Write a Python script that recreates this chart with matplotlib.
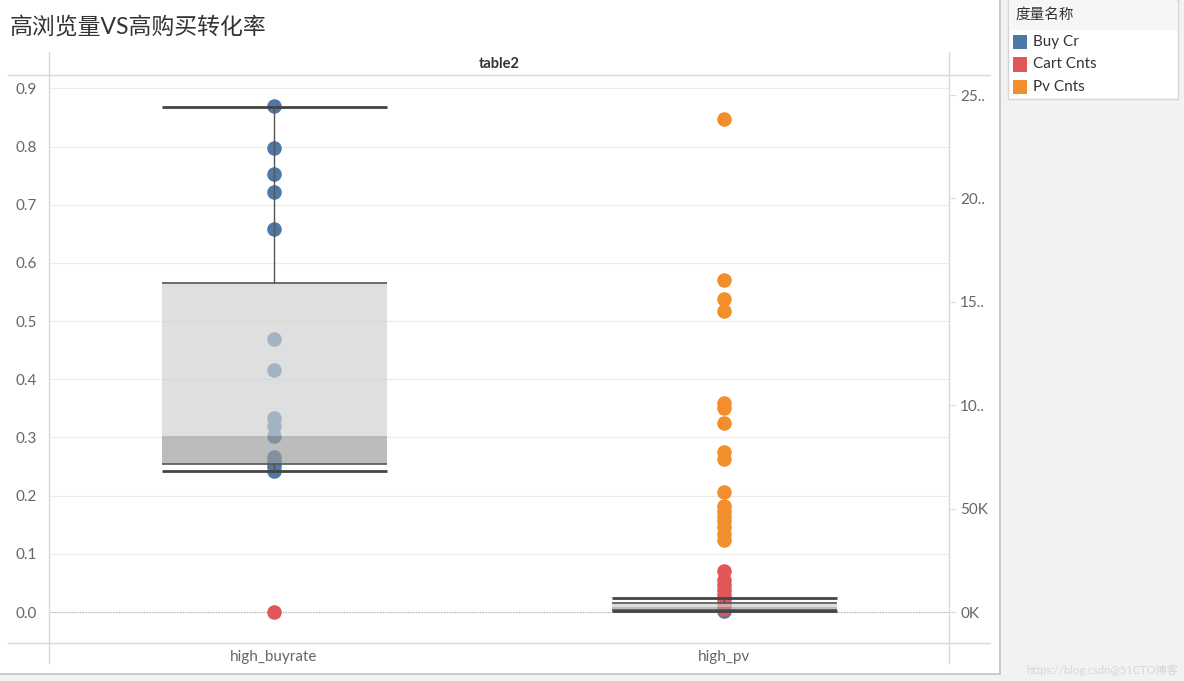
import matplotlib.pyplot as plt
from matplotlib.patches import Rectangle
from matplotlib.lines import Line2D
from matplotlib.ticker import FuncFormatter

plt.rcParams['font.family'] = ['Lato', 'Noto Sans CJK SC', 'DejaVu Sans']

# data
categories = ['high_buyrate', 'high_pv']
measures = ['Buy Cr', 'Cart Cnts', 'Pv Cnts']
colors = ['#4e79a7', '#e15759', '#f28e2b']

buy_cr_high_buyrate = [0.869, 0.797, 0.752, 0.722, 0.658, 0.469, 0.416, 0.333,
                       0.320, 0.302, 0.266, 0.260, 0.251, 0.242]
buy_cr_high_pv = [0.001]
cart_high_buyrate = [50]
cart_high_pv = [19800, 15500, 13000, 10600, 8200, 5800, 3400, 1500]
pv_high_pv = [238400, 160500, 151400, 145600, 101100, 98600, 91400, 77400,
              74000, 58000, 51300, 48800, 46400, 44000, 41100, 37700, 34800]

# box stats: whisker low, q1, median, q3, whisker high
box_high_buyrate = [0.242, 0.254, 0.302, 0.565, 0.868]
box_high_pv = [700, 1200, 2400, 4300, 6800]

W, H = 1184, 681


def fx(x):
    return x / W


def fy(y):
    return 1 - y / H


def draw_box(ax, x, stats, width=0.5):
    lo, q1, med, q3, hi = stats
    left = x - width / 2
    ax.add_patch(Rectangle((left, med), width, q3 - med, facecolor='#d0d0d0',
                           alpha=0.67, edgecolor='none', zorder=3))
    ax.add_patch(Rectangle((left, q1), width, med - q1, facecolor='#9c9c9c',
                           alpha=0.67, edgecolor='none', zorder=3))
    ax.hlines([q1, q3], left, left + width, color='#555555', lw=1.2, zorder=4)
    ax.hlines([lo, hi], left, left + width, color='#444444', lw=2, zorder=4)
    ax.vlines(x, q3, hi, color='#555555', lw=1, zorder=4)
    ax.vlines(x, lo, q1, color='#555555', lw=1, zorder=4)


fig = plt.figure(figsize=(W / 100, H / 100), dpi=100)
fig.patch.set_facecolor('#f2f2f2')
fig.add_artist(Rectangle((0, fy(674)), fx(999), 1 - fy(674), transform=fig.transFigure,
                         facecolor='white', edgecolor='none', zorder=-10))
border_kw = dict(transform=fig.transFigure, color='#c4c4c4', lw=1.2)
fig.add_artist(Line2D([fx(999.5), fx(999.5)], [fy(674), 1], **border_kw))
fig.add_artist(Line2D([0, fx(999.5)], [fy(674), fy(674)], **border_kw))

ax = fig.add_axes([fx(49), fy(642), fx(949) - fx(49), fy(75) - fy(642)])
ax2 = ax.twinx()
for a in (ax, ax2):
    a.set_facecolor('none')
    for s in a.spines.values():
        s.set_visible(False)

ax.set_xlim(-0.5, 1.5)
ax.set_ylim(-0.0515, 0.923)
ax2.set_ylim(-14500, 259700)

ax.set_yticks([i / 10 for i in range(10)])
ax.yaxis.set_major_formatter(FuncFormatter(lambda v, p: f'{v:.1f}'))
ax.grid(axis='y', color='#ececec', lw=0.8)
ax.set_axisbelow(True)
ax.axhline(0, color='#b0b0b0', ls=(0, (1, 1.5)), lw=0.8, zorder=1)
ax.tick_params(axis='y', length=0, pad=9, labelsize=11, labelcolor='#666666')
ax.set_xticks(range(len(categories)))
ax.set_xticklabels(categories)
ax.tick_params(axis='x', length=0, pad=6, labelsize=11, labelcolor='#666666')


def k_fmt(v, p):
    s = f'{v / 1000:.0f}K'
    return s if len(s) <= 3 else s[:2] + '..'


ax2.set_yticks([0, 50000, 100000, 150000, 200000, 250000])
ax2.yaxis.set_major_formatter(FuncFormatter(k_fmt))
ax2.tick_params(axis='y', length=5, width=0.8, color='#dddddd', pad=3,
                labelsize=11, labelcolor='#666666')

ms = 110
ax.scatter([0] * len(buy_cr_high_buyrate), buy_cr_high_buyrate, s=ms, color=colors[0], zorder=2, lw=0)
ax.scatter([1] * len(buy_cr_high_pv), buy_cr_high_pv, s=ms, color=colors[0], zorder=2, lw=0)
draw_box(ax, 0, box_high_buyrate)

ax2.scatter([1] * len(pv_high_pv), pv_high_pv, s=ms, color=colors[2], zorder=2, lw=0)
ax2.scatter([1] * len(cart_high_pv), cart_high_pv, s=ms, color=colors[1], zorder=2, lw=0)
ax2.scatter([0] * len(cart_high_buyrate), cart_high_buyrate, s=ms, color=colors[1], zorder=2, lw=0)
draw_box(ax2, 1, box_high_pv)

# frame lines of the pane
line_kw = dict(transform=fig.transFigure, color='#d9d9d9', lw=1)
fig.add_artist(Line2D([fx(8), fx(990)], [fy(75), fy(75)], **line_kw))
fig.add_artist(Line2D([fx(8), fx(990)], [fy(642.5), fy(642.5)], **line_kw))
fig.add_artist(Line2D([fx(49), fx(49)], [fy(52), fy(663)], **line_kw))
fig.add_artist(Line2D([fx(949), fx(949)], [fy(52), fy(663)], **line_kw))

fig.text(fx(10), fy(27), '高浏览量VS高购买转化率', fontsize=16.5, color='#333333', va='center')
fig.text(fx(499), fy(64), 'table2', fontsize=10.5, color='#333333', va='center', ha='center',
         fontweight='bold')

# legend
fig.add_artist(Rectangle((fx(1008), fy(99)), fx(170), fy(0) - fy(99), transform=fig.transFigure,
                         facecolor='white', edgecolor='#d4d4d4', lw=1))
fig.add_artist(Rectangle((fx(1009), fy(30)), fx(168), fy(0) - fy(30), transform=fig.transFigure,
                         facecolor='#f6f6f6', edgecolor='none'))
fig.text(fx(1015), fy(15), '度量名称', fontsize=10.5, color='#333333', va='center')
for i, (name, c) in enumerate(zip(measures, colors)):
    yc = 42 + i * 22.5
    fig.add_artist(Rectangle((fx(1013), fy(yc + 7)), fx(14), fy(0) - fy(14),
                             transform=fig.transFigure, facecolor=c, edgecolor='none'))
    fig.text(fx(1033), fy(yc), name, fontsize=11, color='#333333', va='center')

fig.text(fx(1178), fy(670), 'https://blog.csdn@51CTO博客', fontsize=8, color='#d6d6d6',
         ha='right', va='center')

fig.savefig('out.png', dpi=100, facecolor=fig.get_facecolor())
